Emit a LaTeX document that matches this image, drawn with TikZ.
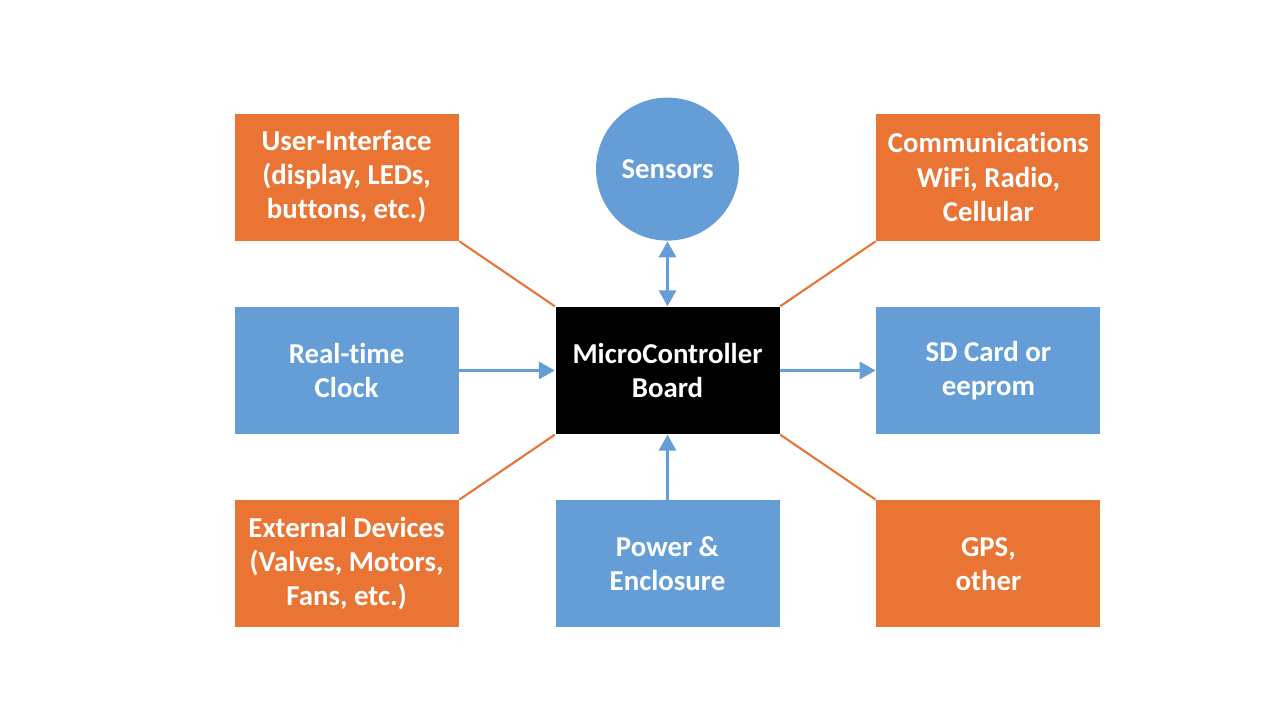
\documentclass[tikz,border=0pt]{standalone}
\usepackage{fontspec}
\setmainfont{Carlito}[Ligatures=NoCommon]
\usetikzlibrary{positioning, arrows.meta}
\definecolor{boxblue}{HTML}{659ED6}
\definecolor{boxorange}{HTML}{E97434}

\begin{document}
\begin{tikzpicture}[
			node distance = 0.65cm and 0.955cm,
			>={Triangle[length=0.16cm,width=0.17cm]},
			every node/.style = {
				font=\fontsize{8.2}{9.7}\selectfont\bfseries,
				text=white, align=center, inner sep=0pt
			},
			part/.style = {rectangle, minimum width=2.24cm, minimum height=1.27cm},
			bluepart/.style = {part, fill=boxblue},
			orangepart/.style = {part, fill=boxorange},
			link/.style = {draw=boxorange, line width=0.6pt},
			flow/.style = {color=boxblue, line width=0.9pt, ->}]
			\useasboundingbox (0,0) rectangle (12.8,7.2);
			\node (mcu) [part, fill=black] at (6.675,3.495) {MicroController\\Board};
			\node (rtc) [bluepart, left = of mcu] {Real-time\\Clock};
			\node (ui) [orangepart, above = of rtc] {User-Interface\\(display, LEDs,\\buttons, etc.)};
			\node (ext) [orangepart, below = of rtc] {External Devices\\(Valves, Motors,\\Fans, etc.)};
			\node (sensors) [circle, fill=boxblue, minimum size=1.43cm, above = of mcu] {Sensors};
			\node (power) [bluepart, below = of mcu] {Power \&\\Enclosure};
			\node (sd) [bluepart, right = of mcu] {SD Card or\\eeprom};
			\node (comm) [orangepart, above = of sd] {Communications\\WiFi, Radio,\\Cellular};
			\node (gps) [orangepart, below = of sd] {GPS,\\other};
			\path [link]
			(ui.south east) -- (mcu.north west)
			(comm.south west) -- (mcu.north east)
			(ext.north east) -- (mcu.south west)
			(gps.north west) -- (mcu.south east);
			\path [flow]
			(rtc) edge (mcu)
			(mcu) edge (sd)
			(power) edge (mcu)
			(sensors) edge [<->] (mcu);
		\end{tikzpicture}
\end{document}
